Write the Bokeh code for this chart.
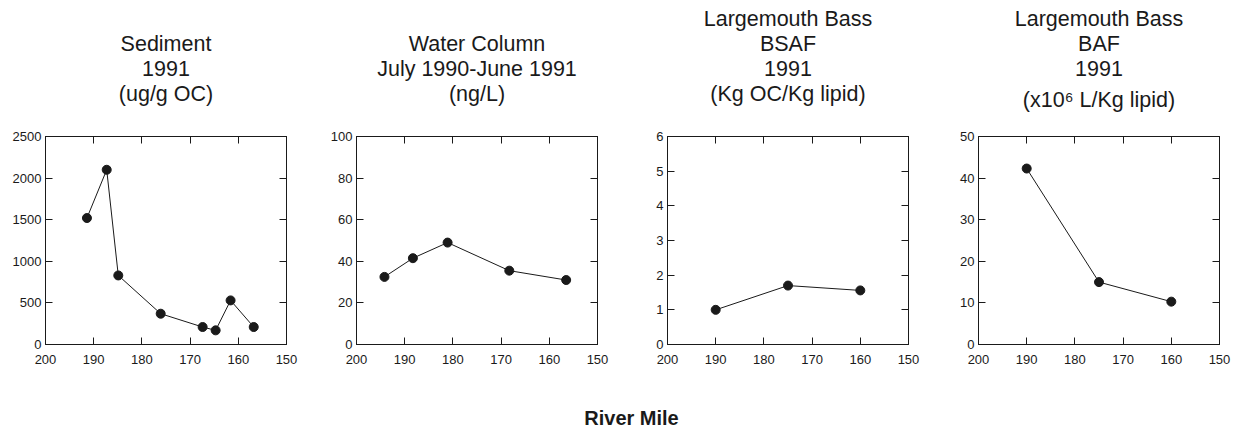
from bokeh.plotting import figure
from bokeh.models import Range1d, LinearAxis, FixedTicker, Title
from bokeh.core.properties import value
from bokeh.layouts import column, row
from bokeh.embed import file_html
from bokeh.resources import INLINE

# ---- data ----
x_ticks = [200, 190, 180, 170, 160, 150]

sed_mile = [191.4, 187.3, 184.9, 176.1, 167.4, 164.7, 161.6, 156.8]
sed_val = [1520, 2100, 830, 370, 210, 170, 530, 210]
sed_ticks = [0, 500, 1000, 1500, 2000, 2500]

water_mile = [194.2, 188.3, 181.1, 168.3, 156.5]
water_val = [32.5, 41.5, 49, 35.5, 31]
water_ticks = [0, 20, 40, 60, 80, 100]

bsaf_mile = [190, 175, 160]
bsaf_val = [1.0, 1.7, 1.56]
bsaf_ticks = [0, 1, 2, 3, 4, 5, 6]

baf_mile = [190, 175, 160]
baf_val = [42.3, 15, 10.3]
baf_ticks = [0, 10, 20, 30, 40, 50]

titles = [
    ["Sediment", "1991", "(ug/g OC)"],
    ["Water Column", "July 1990-June 1991", "(ng/L)"],
    ["Largemouth Bass", "BSAF", "1991", "(Kg OC/Kg lipid)"],
    ["Largemouth Bass", "BAF", "1991", "(x10\u2076 L/Kg lipid)"],
]
x_label = "River Mile"

FONT = "Liberation Sans"
INK = "#1a1a1a"

# ---- layout (pixels) ----
FRAME_W = 241
FRAME_H = 208
HEAD_H = 130       # height of the title strip above the plots
PAD_TOP = 6        # plot figure border above its frame
LINE_GAP = 25      # title line spacing
LAST_LINE = 93     # centre of the last title line, from page top
BORDERS = [(45, 33), (37, 33), (37, 33), (37, 12)]
LAST_EXTRA = [0, 0, 0, 6]   # the superscript line sits a little lower


def style_axis(ax, ticks, labels=True, standoff=4):
    ax.ticker = FixedTicker(ticks=ticks)
    ax.minor_tick_line_color = None
    ax.major_tick_in = 7
    ax.major_tick_out = 0
    ax.major_tick_line_color = INK
    ax.axis_line_color = INK
    if labels:
        ax.major_label_text_font = FONT
        ax.major_label_text_font_size = "13px"
        ax.major_label_text_color = INK
        ax.major_label_standoff = standoff
    else:
        ax.major_label_text_font_size = "1px"
        ax.major_label_text_color = None
        ax.major_label_standoff = 0


def header(lines, left_border, right_border, last_extra=0):
    w = left_border + FRAME_W + right_border
    h = figure(width=w, height=HEAD_H, x_axis_type=None, y_axis_type=None,
               output_backend="svg", toolbar_location=None,
               x_range=Range1d(0, w), y_range=Range1d(HEAD_H, 0),
               min_border=0)
    h.outline_line_color = None
    h.border_fill_color = "white"
    h.background_fill_color = "white"
    n = len(lines)
    xs = [left_border + FRAME_W / 2] * n
    ys = [LAST_LINE - LINE_GAP * (n - 1 - k) for k in range(n)]
    ys[-1] += last_extra
    h.text(x=xs, y=ys, text=lines, text_align="center", text_baseline="middle",
           text_font=value(FONT), text_font_size=value("21.5px"), text_color=INK)
    return h


def panel(miles, vals, yticks, left_border, right_border):
    p = figure(width=left_border + FRAME_W + right_border,
               height=PAD_TOP + FRAME_H + 44,
               output_backend="svg", toolbar_location=None,
               x_range=Range1d(200, 150), y_range=Range1d(yticks[0], yticks[-1]),
               min_border_left=left_border, min_border_right=right_border,
               min_border_top=PAD_TOP, min_border_bottom=44)
    p.xgrid.visible = False
    p.ygrid.visible = False
    p.outline_line_color = INK
    p.background_fill_color = "white"
    p.border_fill_color = "white"

    style_axis(p.xaxis[0], x_ticks, True, 10)
    style_axis(p.yaxis[0], yticks, True, 4)
    top = LinearAxis()
    style_axis(top, x_ticks, False)
    p.add_layout(top, "above")
    right = LinearAxis()
    style_axis(right, yticks, False)
    p.add_layout(right, "right")

    p.line(miles, vals, line_color=INK, line_width=1)
    p.scatter(miles, vals, size=9, fill_color=INK, line_color=INK)
    return p


heads = [header(titles[i], *BORDERS[i], last_extra=LAST_EXTRA[i]) for i in range(4)]
plots = [
    panel(sed_mile, sed_val, sed_ticks, *BORDERS[0]),
    panel(water_mile, water_val, water_ticks, *BORDERS[1]),
    panel(bsaf_mile, bsaf_val, bsaf_ticks, *BORDERS[2]),
    panel(baf_mile, baf_val, baf_ticks, *BORDERS[3]),
]

foot = figure(width=1231, height=41, x_axis_type=None, y_axis_type=None,
              output_backend="svg", toolbar_location=None,
              min_border_left=31, min_border_right=0, min_border_top=40,
              min_border_bottom=0)
foot.outline_line_color = None
foot.border_fill_color = "white"
foot.add_layout(Title(text=x_label, align="center", standoff=0, text_font=FONT,
                      text_font_size="20px", text_font_style="bold",
                      text_color=INK), "above")

layout = column(row(*heads), row(*plots), foot)

open("out.html", "w").write(file_html(layout, INLINE))
